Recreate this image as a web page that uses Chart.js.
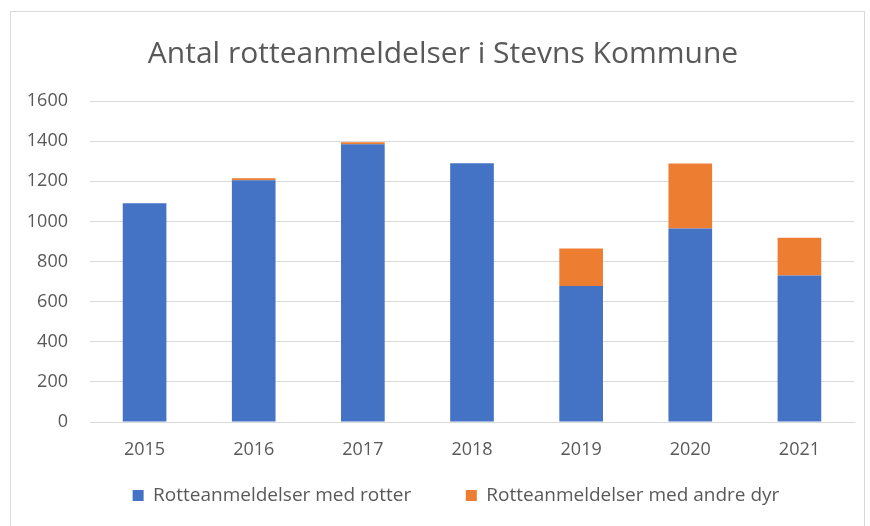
<!DOCTYPE html>
<html>
<head>
<meta charset="utf-8">
<script src="https://cdn.jsdelivr.net/npm/chart.js@4"></script>
<style>
  html, body { margin: 0; padding: 0; background: #fff; }
  #wrap { position: relative; width: 870px; height: 526px; }
  #frame { position: absolute; left: 10px; top: 11px; width: 855px; height: 530px; border: 1px solid #d9d9d9; box-sizing: border-box; }
  canvas { position: absolute; left: 0; top: 0; }
</style>
</head>
<body>
<div id="wrap">
  <div id="frame"></div>
  <canvas id="myChart" width="870" height="526"></canvas>
</div>
<script>
// values
const years = ["2015", "2016", "2017", "2018", "2019", "2020", "2021"];
const medRotter = [1090, 1205, 1385, 1290, 678, 965, 730];
const andreDyr = [0, 10, 10, 0, 187, 323, 188];
const yTicks = [0, 200, 400, 600, 800, 1000, 1200, 1400, 1600];

const grey = "#595959";
Chart.defaults.font.family = "'Open Sans', sans-serif";

// move title and legend a little to the right, like the original
const boxShift = {
    id: "boxShift",
    afterLayout(chart) {
        chart.titleBlock.left += 11;
        chart.titleBlock.right += 11;
        chart.legend.left += 24;
        chart.legend.right += 24;
    }
};

const myChart = new Chart("myChart", {
    type: "bar",
    data: {
        labels: years,
        datasets: [
            {
                label: "Rotteanmeldelser med rotter",
                data: medRotter,
                backgroundColor: "#4472C4",
                categoryPercentage: 0.8,
                barPercentage: 0.5
            },
            {
                label: "Rotteanmeldelser med andre dyr",
                data: andreDyr,
                backgroundColor: "#ED7D31",
                categoryPercentage: 0.8,
                barPercentage: 0.5
            }
        ]
    },
    plugins: [boxShift],
    options: {
        responsive: false,
        animation: false,
        layout: { padding: { left: 10, right: 16, top: 0, bottom: 11 } },
        plugins: {
            title: {
                display: true,
                text: "Antal rotteanmeldelser i Stevns Kommune",
                color: grey,
                font: { size: 30, weight: "normal" },
                padding: { top: 36, bottom: 29 }
            },
            legend: {
                position: "bottom",
                labels: {
                    color: grey,
                    font: { size: 19 },
                    boxWidth: 11,
                    boxHeight: 11,
                    padding: 20,
                    generateLabels: (chart) => {
                        const items = Chart.defaults.plugins.legend.labels.generateLabels(chart);
                        items[0].text += "       ";
                        return items;
                    }
                }
            },
            tooltip: { enabled: false }
        },
        scales: {
            x: {
                stacked: true,
                grid: { display: false, drawTicks: false },
                border: { color: "#d9d9d9" },
                afterFit: (scale) => { scale.height = 44; },
                ticks: { color: grey, font: { size: 18 }, padding: 17 }
            },
            y: {
                stacked: true,
                min: 0,
                max: 1600,
                afterBuildTicks: (scale) => { scale.ticks = yTicks.map(v => ({ value: v })); },
                afterFit: (scale) => { scale.width = 80; },
                grid: { color: "#d9d9d9", drawTicks: false },
                border: { display: false },
                ticks: { color: grey, font: { size: 18 }, padding: 22, callback: (v) => String(v) }
            }
        }
    }
});
</script>
</body>
</html>
